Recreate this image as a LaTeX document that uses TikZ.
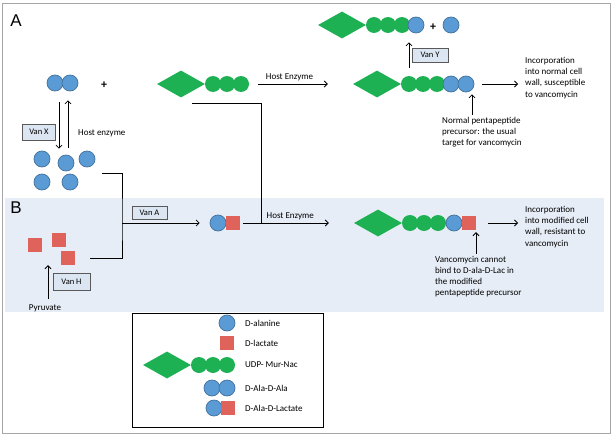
\documentclass[tikz,border=0pt]{standalone}
\usepackage{fontspec}
\setmainfont{Carlito}
\newfontfamily\panelfont{Liberation Sans}
\usetikzlibrary{shapes.geometric,arrows.meta}

\definecolor{alablue}{HTML}{5B9BD5}
\definecolor{alaedge}{HTML}{41719C}
\definecolor{udpgreen}{HTML}{1DB154}
\definecolor{lacred}{HTML}{E0635B}
\definecolor{panelblue}{HTML}{E6EDF6}
\definecolor{vanfill}{HTML}{DCE6F2}

\tikzset{
  ala/.style={circle,fill=alablue,draw=alaedge,line width=0.7pt,minimum size=16pt,inner sep=0pt},
  lac/.style={rectangle,fill=lacred,minimum size=14pt,inner sep=0pt},
  bead/.style={circle,fill=udpgreen,minimum size=16pt,inner sep=0pt},
  head/.style={diamond,fill=udpgreen,minimum width=48pt,minimum height=27pt,inner sep=0pt},
  vanbox/.style={draw=black!65,fill=vanfill,line width=0.6pt,minimum width=35pt,minimum height=15pt,inner sep=1pt,font=\fontsize{8.5}{9}\selectfont},
  note/.style={align=left,font=\fontsize{9}{11.2}\selectfont,inner sep=0pt},
  arr/.style={-{Straight Barb[length=3pt,width=6pt]},line width=0.8pt},
  panel/.style={font=\panelfont\fontsize{17}{17}\selectfont,inner sep=0pt},
  plus/.style={font=\bfseries\fontsize{12}{12}\selectfont,inner sep=0pt},
}

% UDP-MurNac: diamond plus three beads, #1 name, #2 centre of the diamond
\newcommand{\udpchain}[2]{
  \begin{scope}[shift={(#2)}]
    \node[head] (#1) at (0,0) {};
    \node[bead] (#1-1) at (32,0) {};
    \node[bead] (#1-2) at (46,0) {};
    \node[bead] (#1-3) at (60,0) {};
  \end{scope}
}

\begin{document}
\begin{tikzpicture}[x=1pt,y=-1pt]
  \useasboundingbox (0,0) rectangle (615,436);
  \draw[black!35,line width=1pt] (2,4) rectangle (610,433);
  \fill[panelblue] (5,198) rectangle (604,312);

  \node[panel] (labA) at (16,21) {A};
  \node[panel] (labB) at (16,208) {B};

  % part A
  \node[ala] (dA1) at (55,83) {};
  \node[ala] (dA2) at (70,83) {};
  \node[plus] (plusA) at (104,85) {+};
  \udpchain{udpA}{181,84}

  \node[ala] (f1) at (42,159) {};
  \node[ala] (f2) at (66,163) {};
  \node[ala] (f3) at (87,159) {};
  \node[ala] (f4) at (42,182) {};
  \node[ala] (f5) at (70,182) {};

  \draw[arr] ([xshift=4pt,yshift=-11pt]dA1.south) -- ([xshift=-7pt,yshift=6pt]f2.north);
  \draw[arr] ([xshift=2pt,yshift=7pt]f2.north) -- ([xshift=-2pt,yshift=-9pt]dA2.south);
  \node[vanbox,minimum width=33pt,minimum height=16pt] (vanX) at (39,132) {Van X};
  \node[note,anchor=west] (hostX) at (78,133) {Host enzyme};

  \udpchain{udpM}{377,84}
  \node[ala] (udpM-4) at (451,84) {};
  \node[ala] (udpM-5) at (466,84) {};

  \draw[arr] ([xshift=9pt]udpA-3.east) -- node[note,above=3pt,pos=0.45] {Host Enzyme} ([xshift=-25pt]udpM.west);

  \udpchain{udpT}{342,25}
  \node[ala] (udpT-4) at (416,25) {};
  \node[plus] (plusT) at (433,27) {+};
  \node[ala] (alaT) at (451,25) {};

  \draw[arr,shorten <=8pt,shorten >=9pt] (udpM-1.north) -- (udpM-1.north |- udpT-4.south);
  \node[vanbox,minimum width=36pt,minimum height=14pt] (vanY) at (430,55) {Van Y};

  \node[note,anchor=north west] (incA) at (525,57) {Incorporation\\into normal cell\\wall, susceptible\\to vancomycin};
  \draw[arr,shorten <=8pt,shorten >=7pt] (udpM-5.east) -- (udpM-5.east -| incA.west);

  \node[note,anchor=north west] (normA) at (442,117) {Normal pentapeptide\\precursor: the usual\\target for vancomycin};
  \draw[arr,shorten <=2pt,shorten >=2pt] ([xshift=6pt]udpM-5.south |- normA.north) -- ([xshift=6pt]udpM-5.south);

  % part B
  \node[lac] (r1) at (35,245) {};
  \node[lac] (r2) at (59,240) {};
  \node[lac] (r3) at (68,258) {};
  \node[vanbox,minimum width=37pt,minimum height=17pt] (vanH) at (71.5,281.5) {Van H};
  \node[note] (pyr) at (45,308) {Pyruvate};
  \draw[arr] ([xshift=3pt,yshift=5pt]pyr.north) -- ([xshift=13pt,yshift=-13pt]r1.south);

  \coordinate (joinA) at (122,223);
  \draw[line width=0.7pt] ([xshift=7pt,yshift=-14pt]f3.east) -| (joinA) |- ([xshift=15pt]r3.east);
  \node[ala] (dlB) at (218,223) {};
  \node[lac] (lB) at (233,223) {};
  \draw[arr] (joinA) -- ([xshift=-10pt]dlB.west);
  \node[vanbox,minimum width=35pt,minimum height=13pt] (vanA) at (149.5,213) {Van A};

  \udpchain{udpB}{378,223}
  \node[ala] (udpB-4) at (454,223) {};
  \node[lac] (lacB) at (469,223) {};

  \coordinate (joinB) at (261,223);
  \draw[line width=0.7pt] ([xshift=11pt,yshift=-6pt]udpA.south) -| (joinB);
  \draw[arr] ([xshift=3pt]lB.east) -- node[note,above=3pt,pos=0.55] {Host Enzyme} ([xshift=-25pt]udpB.west);

  \node[note,anchor=north west] (incB) at (525,206) {Incorporation\\into modified cell\\wall, resistant to\\vancomycin};
  \draw[arr,shorten <=12pt,shorten >=7pt] (lacB.east) -- (lacB.east -| incB.west);

  \node[note,anchor=north west] (vancB) at (435,256) {Vancomycin cannot\\bind to D-ala-D-Lac in\\the modified\\pentapeptide precursor};
  \draw[arr,shorten <=2pt,shorten >=2pt] ([xshift=7pt]lacB.south |- vancB.north) -- ([xshift=7pt]lacB.south);

  % key
  \node[draw,line width=1pt,minimum width=191pt,minimum height=114pt,inner sep=0pt] (legend) at (227.5,370) {};
  \node[ala] (keyAla) at (227,323) {};
  \node[note,anchor=west] at (245,323) {D-alanine};
  \node[lac] (keyLac) at (227,343) {};
  \node[note,anchor=west] at (245,343) {D-lactate};
  \udpchain{keyUdp}{167,365}
  \node[note,anchor=west] at (245,365) {UDP- Mur-Nac};
  \node[ala] (keyAA1) at (212,388) {};
  \node[ala] (keyAA2) at (227,388) {};
  \node[note,anchor=west] at (245,388) {D-Ala-D-Ala};
  \node[ala] (keyAL1) at (214,408) {};
  \node[lac] (keyAL2) at (228,408) {};
  \node[note,anchor=west] at (245,408) {D-Ala-D-Lactate};
\end{tikzpicture}
\end{document}
